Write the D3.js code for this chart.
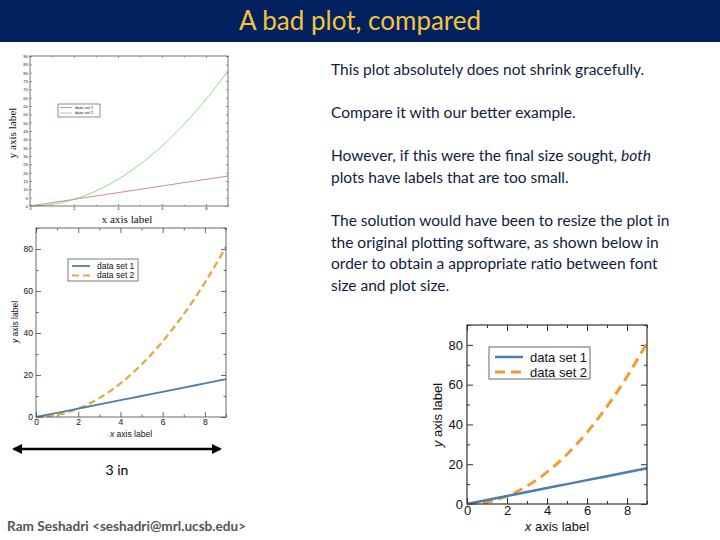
<!DOCTYPE html>
<html>
<head>
<meta charset="utf-8">
<script src="https://cdn.jsdelivr.net/npm/d3@7"></script>
<style>
  html, body { margin: 0; padding: 0; background: #fff; }
  svg { display: block; }
</style>
</head>
<body>
<svg id="slide" width="720" height="540"></svg>
<script>
// ---------- data ----------
const xValues = [0, 1, 2, 3, 4, 5, 6, 7, 8, 9];
const dataSet1 = [0, 2, 4, 6, 8, 10, 12, 14, 16, 18];
const dataSet2 = [0, 1, 4, 9, 16, 25, 36, 49, 64, 81];
const seriesNames = ["data set 1", "data set 2"];
const xDomain = [0, 9];
const yDomain = [0, 90];
const xTickLabels = [0, 2, 4, 6, 8];
const xMinorTicks = [1, 3, 5, 7, 9];
const yTicksFine = [0, 5, 10, 15, 20, 25, 30, 35, 40, 45, 50, 55, 60, 65, 70, 75, 80, 85, 90];
const yTickLabels = [0, 20, 40, 60, 80];
const yMinorTicks = [10, 30, 50, 70, 90];

const titleText = "A bad plot, compared";
const bodyParagraphs = [
  ["This plot absolutely does not shrink gracefully."],
  ["Compare it with our better example."],
  [[["However, if this were the final size sought, ", false], ["both", true]], "plots have labels that are too small."],
  ["The solution would have been to resize the plot in", "the original plotting software, as shown below in", "order to obtain a appropriate ratio between font", "size and plot size."]
];
const footerText = "Ram Seshadri <seshadri@mrl.ucsb.edu>";
const scaleText = "3 in";

// ---------- slide chrome ----------
const svg = d3.select("#slide");
svg.append("rect").attr("x", 0).attr("y", 0).attr("width", 720).attr("height", 42).attr("fill", "#03205f");
svg.append("text").attr("x", 360).attr("y", 30).attr("text-anchor", "middle")
  .attr("font-family", "Lato, 'Open Sans', sans-serif").attr("font-size", 26)
  .attr("fill", "#f2c53d").text(titleText);

// body text
const bodyFont = "Lato, 'Open Sans', sans-serif";
const paraY = [75, 118, 161, 226];
const lineH = 21.5;
bodyParagraphs.forEach((para, pi) => {
  para.forEach((line, li) => {
    const t = svg.append("text").attr("x", 331).attr("y", paraY[pi] + li * lineH)
      .attr("font-family", bodyFont).attr("font-size", 15.5).attr("fill", "#0f1c40");
    if (Array.isArray(line)) {
      line.forEach(([s, it]) => t.append("tspan").attr("font-style", it ? "italic" : "normal").text(s));
    } else {
      t.text(line);
    }
  });
});

// arrow + "3 in"
const defs = svg.append("defs");
defs.append("marker").attr("id", "ah").attr("viewBox", "0 0 10 10").attr("refX", 8).attr("refY", 5)
  .attr("markerWidth", 4).attr("markerHeight", 4).attr("orient", "auto-start-reverse")
  .append("path").attr("d", "M0,0 L10,5 L0,10 Z").attr("fill", "#000");
svg.append("line").attr("x1", 14).attr("x2", 220).attr("y1", 449).attr("y2", 449)
  .attr("stroke", "#000").attr("stroke-width", 2.5)
  .attr("marker-start", "url(#ah)").attr("marker-end", "url(#ah)");
svg.append("text").attr("x", 117).attr("y", 475).attr("text-anchor", "middle")
  .attr("font-family", bodyFont).attr("font-size", 14).attr("fill", "#000").text(scaleText);

svg.append("text").attr("x", 7).attr("y", 531)
  .attr("font-family", bodyFont).attr("font-size", 13.6).attr("font-weight", "bold")
  .attr("fill", "#555").text(footerText);

// ---------- generic plot ----------
function drawPlot(cfg) {
  const g = svg.append("g").attr("transform", `translate(${cfg.left},${cfg.top})`);
  const x = d3.scaleLinear().domain(xDomain).range([0, cfg.w]);
  const y = d3.scaleLinear().domain(yDomain).range([cfg.h, 0]);

  const styleAxis = (sel, showText) => {
    sel.select(".domain").remove();
    sel.selectAll("line").attr("stroke", cfg.frameColor).attr("stroke-width", cfg.tickWidth);
    sel.selectAll("text").attr("font-family", cfg.tickFont).attr("font-size", cfg.tickSize).attr("fill", "#111");
    if (!showText) sel.selectAll("text").remove();
  };

  const yMajor = cfg.yMajor, yMinor = cfg.yMinor;
  // left
  g.append("g").call(d3.axisLeft(y).tickValues(yMajor).tickSize(-cfg.majorLen).tickPadding(cfg.tickPad).tickFormat(d3.format("d")))
    .call(s => styleAxis(s, true));
  if (yMinor.length) g.append("g").call(d3.axisLeft(y).tickValues(yMinor).tickSize(-cfg.minorLen).tickFormat(""))
    .call(s => styleAxis(s, false));
  // right
  g.append("g").attr("transform", `translate(${cfg.w},0)`)
    .call(d3.axisRight(y).tickValues(yMajor).tickSize(-cfg.majorLen).tickFormat(""))
    .call(s => styleAxis(s, false));
  if (yMinor.length) g.append("g").attr("transform", `translate(${cfg.w},0)`)
    .call(d3.axisRight(y).tickValues(yMinor).tickSize(-cfg.minorLen).tickFormat(""))
    .call(s => styleAxis(s, false));
  // bottom
  g.append("g").attr("transform", `translate(0,${cfg.h})`)
    .call(d3.axisBottom(x).tickValues(xTickLabels).tickSize(-cfg.majorLen).tickPadding(cfg.tickPadX).tickFormat(d3.format("d")))
    .call(s => styleAxis(s, true));
  g.append("g").attr("transform", `translate(0,${cfg.h})`)
    .call(d3.axisBottom(x).tickValues(xMinorTicks).tickSize(-cfg.minorLen).tickFormat(""))
    .call(s => styleAxis(s, false));
  // top
  g.append("g").call(d3.axisTop(x).tickValues(xTickLabels).tickSize(-cfg.majorLen).tickFormat(""))
    .call(s => styleAxis(s, false));
  g.append("g").call(d3.axisTop(x).tickValues(xMinorTicks).tickSize(-cfg.minorLen).tickFormat(""))
    .call(s => styleAxis(s, false));

  // series
  const pts1 = xValues.map((v, i) => [v, dataSet1[i]]);
  const pts2 = xValues.map((v, i) => [v, dataSet2[i]]);
  const line = d3.line().x(d => x(d[0])).y(d => y(d[1])).curve(d3.curveMonotoneX);
  g.append("path").datum(pts2).attr("d", line).attr("fill", "none")
    .attr("stroke", cfg.c2).attr("stroke-width", cfg.w2).attr("stroke-dasharray", cfg.dash2);
  g.append("path").datum(pts1).attr("d", line).attr("fill", "none")
    .attr("stroke", cfg.c1).attr("stroke-width", cfg.w1);

  // frame
  g.append("rect").attr("x", 0).attr("y", 0).attr("width", cfg.w).attr("height", cfg.h)
    .attr("fill", "none").attr("stroke", cfg.frameColor).attr("stroke-width", cfg.frameWidth);

  // legend
  const L = cfg.legend;
  const lg = g.append("g").attr("transform", `translate(${L.x},${L.y})`);
  lg.append("rect").attr("width", L.w).attr("height", L.h).attr("fill", "#fff")
    .attr("stroke", "#444").attr("stroke-width", L.stroke);
  [[cfg.c1, cfg.w1, null], [cfg.c2, cfg.w2, cfg.dash2]].forEach((s, i) => {
    const yy = L.row0 + i * L.rowGap;
    lg.append("line").attr("x1", L.lx0).attr("x2", L.lx1).attr("y1", yy).attr("y2", yy)
      .attr("stroke", s[0]).attr("stroke-width", s[1]).attr("stroke-dasharray", s[2]);
    lg.append("text").attr("x", L.tx).attr("y", yy).attr("dy", "0.35em")
      .attr("font-family", cfg.tickFont).attr("font-size", L.font).attr("fill", "#111").text(seriesNames[i]);
  });

  // axis labels
  const yl = svg.append("text").attr("transform", `translate(${cfg.yLab.x},${cfg.yLab.y}) rotate(-90)`)
    .attr("text-anchor", "middle").attr("font-family", cfg.labFont).attr("font-size", cfg.labSize).attr("fill", "#111");
  const xl = svg.append("text").attr("x", cfg.xLab.x).attr("y", cfg.xLab.y)
    .attr("text-anchor", "middle").attr("font-family", cfg.labFont).attr("font-size", cfg.labSize).attr("fill", "#111");
  if (cfg.italicVar) {
    yl.append("tspan").attr("font-style", "italic").text("y");
    yl.append("tspan").text(" axis label");
    xl.append("tspan").attr("font-style", "italic").text("x");
    xl.append("tspan").text(" axis label");
  } else {
    yl.text("y axis label");
    xl.text("x axis label");
  }
}

// top: bad plot (tiny)
drawPlot({
  left: 30, top: 56, w: 198, h: 150,
  yMajor: yTicksFine, yMinor: [],
  majorLen: 2, minorLen: 1.2, tickWidth: 0.6, frameColor: "#555", frameWidth: 0.8,
  tickFont: "'Liberation Sans', Arial, sans-serif", tickSize: 4.2, tickPad: 2, tickPadX: 1,
  c1: "#d98a8f", w1: 1, c2: "#8edb8e", w2: 1, dash2: null,
  legend: { x: 28, y: 48, w: 42, h: 13, stroke: 0.6, row0: 3.5, rowGap: 5.5, lx0: 2, lx1: 14, tx: 17, font: 4.2 },
  labFont: "'Liberation Serif', 'DejaVu Serif', serif", labSize: 11.2, italicVar: false,
  yLab: { x: 16, y: 133 }, xLab: { x: 127, y: 222.5 }
});

// middle: shrunken plot
drawPlot({
  left: 36, top: 228, w: 190, h: 189,
  yMajor: yTickLabels, yMinor: yMinorTicks,
  majorLen: 5, minorLen: 2.5, tickWidth: 0.8, frameColor: "#444", frameWidth: 0.8,
  tickFont: "'Liberation Sans', Arial, sans-serif", tickSize: 8.5, tickPad: 3, tickPadX: 2,
  c1: "#4f7eaa", w1: 1.8, c2: "#e0a83e", w2: 2.2, dash2: "7,4",
  legend: { x: 32, y: 31, w: 70, h: 22, stroke: 0.7, row0: 7, rowGap: 9.5, lx0: 4, lx1: 22, tx: 29, font: 8.5 },
  labFont: "'Liberation Sans', Arial, sans-serif", labSize: 8.5, italicVar: true,
  yLab: { x: 18, y: 322 }, xLab: { x: 131, y: 437 }
});

// bottom right: properly sized plot
drawPlot({
  left: 467, top: 325, w: 180, h: 179,
  yMajor: yTickLabels, yMinor: yMinorTicks,
  majorLen: 6, minorLen: 3, tickWidth: 1, frameColor: "#333", frameWidth: 1.2,
  tickFont: "'Liberation Sans', Arial, sans-serif", tickSize: 13, tickPad: 4, tickPadX: 2,
  c1: "#4a7eb0", w1: 2.5, c2: "#f39b2f", w2: 3, dash2: "10,6",
  legend: { x: 22, y: 22, w: 101, h: 32, stroke: 0.8, row0: 10, rowGap: 15, lx0: 6, lx1: 34, tx: 41, font: 13 },
  labFont: "'Liberation Sans', Arial, sans-serif", labSize: 13, italicVar: true,
  yLab: { x: 442, y: 415 }, xLab: { x: 557, y: 531 }
});
</script>
</body>
</html>
